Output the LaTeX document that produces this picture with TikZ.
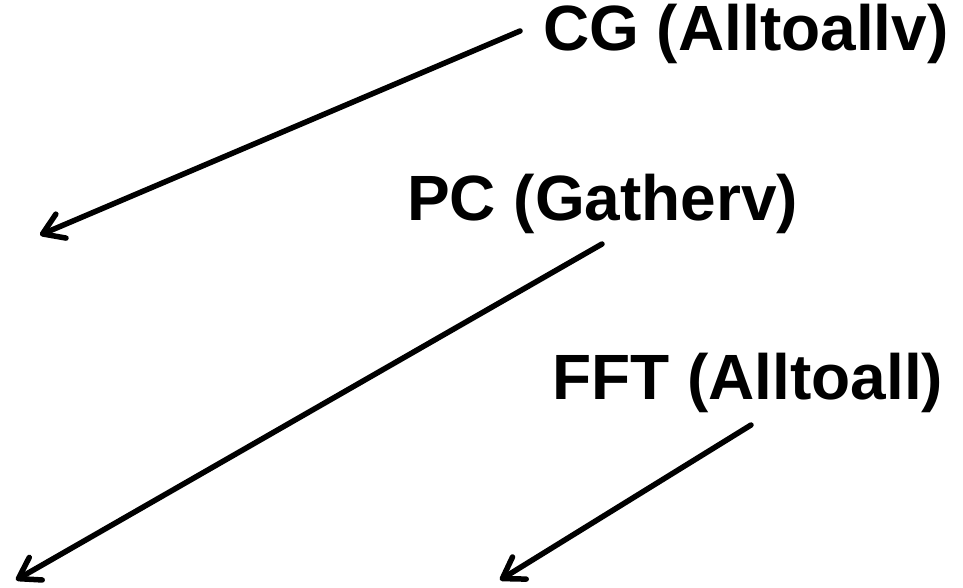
\documentclass[tikz,border=0pt]{standalone}
\usepackage{fontspec}
\setmainfont{Liberation Sans}
\usetikzlibrary{arrows.meta}
\begin{document}
\begin{tikzpicture}[x=1pt,y=-1pt,
  lbl/.style={anchor=base west,inner sep=0pt,font=\fontsize{64}{70}\selectfont\bfseries},
  conn/.style={line width=5.5pt,line cap=round,-{Straight Barb[length=20pt,width=26pt,line cap=round,line join=round]}}]
\useasboundingbox (0,0) rectangle (963,587);
\node[lbl] (cg) at (543,50) {CG (Alltoallv)};
\node[lbl] (pc) at (407,220) {PC (Gatherv)};
\node[lbl] (fft) at (552,399) {FFT (Alltoall)};
\coordinate (s1) at (520,31);
\coordinate (e1) at (40,235);
\coordinate (s2) at (602,244);
\coordinate (e2) at (16,580);
\coordinate (s3) at (751,425);
\coordinate (e3) at (500,580);
\draw[conn] (s1) -- (e1);
\draw[conn] (s2) -- (e2);
\draw[conn] (s3) -- (e3);
\end{tikzpicture}
\end{document}
